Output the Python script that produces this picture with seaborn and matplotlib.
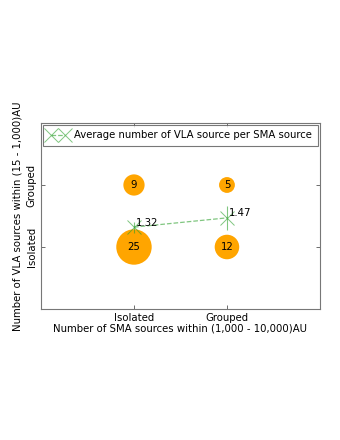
import numpy as np
import pandas as pd
import matplotlib
matplotlib.use("Agg")
import matplotlib.pyplot as plt
import seaborn as sns

# counts of sources per (SMA class, VLA class)
sma_pos = [1, 1, 2, 2]
vla_pos = [1, 2, 1, 2]
counts = [25, 9, 12, 5]

# average number of VLA sources per SMA source
avg_x = [1, 2]
avg_y = [1.32, 1.47]
avg_err = [0.09, 0.19]

tick_labels = ["Isolated", "Grouped"]

sns.set_style("white")
plt.rcParams["font.family"] = ["DejaVu Sans"]
plt.rcParams["text.color"] = "black"
plt.rcParams["xtick.color"] = "black"
plt.rcParams["ytick.color"] = "black"
plt.rcParams["axes.labelcolor"] = "black"
FS = 7.3

df = pd.DataFrame({"sma": sma_pos, "vla": vla_pos, "n": counts})

fig = plt.figure(figsize=(3.4, 4.4), dpi=100)
ax = fig.add_axes([0.1206, 0.2977, 0.8204, 0.4228])

ax.scatter(df["sma"], df["vla"], s=df["n"] * 26, color="orange", edgecolor="none", zorder=2)
for _, r in df.iterrows():
    ax.text(r["sma"], r["vla"], str(r["n"]), ha="center", va="center", fontsize=FS, zorder=3)

green = "#2ca02c"
ax.errorbar(avg_x, avg_y, yerr=avg_err, fmt="none", ecolor=green, alpha=0.6,
            elinewidth=0.8, zorder=4)
ax.plot(avg_x, avg_y, "x--", color=green, alpha=0.6, markersize=10,
        markeredgewidth=0.7, linewidth=0.9,
        label="Average number of VLA source per SMA source", zorder=4)
for x, y in zip(avg_x, avg_y):
    ax.text(x + 0.02, y - 0.01, f"{y:.2f}", ha="left", va="bottom", fontsize=FS, zorder=5)

ax.set_xlim(0, 3)
ax.set_ylim(0, 3)
ax.set_xticks([1, 2])
ax.set_xticklabels(tick_labels, fontsize=FS)
ax.set_yticks([1, 2])
ax.set_yticklabels(tick_labels, rotation=90, va="center", fontsize=FS)
ax.tick_params(direction="in", length=3, width=0.6, color="#555555",
               top=True, right=True, left=True, bottom=True, pad=3)
for s in ax.spines.values():
    s.set_color("#777777")
    s.set_linewidth(0.8)

ax.set_xlabel("Number of SMA sources within (1,000 - 10,000)AU", fontsize=FS, labelpad=0)
ax.set_ylabel("Number of VLA sources within (15 - 1,000)AU", fontsize=FS, labelpad=3)

leg = ax.legend(loc="upper left", numpoints=2, fancybox=False, fontsize=FS,
                borderaxespad=0.15, handlelength=2, handletextpad=0.6,
                borderpad=0.55)
leg.get_frame().set_edgecolor("#555555")
leg.get_frame().set_linewidth(0.8)

fig.savefig("out.png", dpi=100)
